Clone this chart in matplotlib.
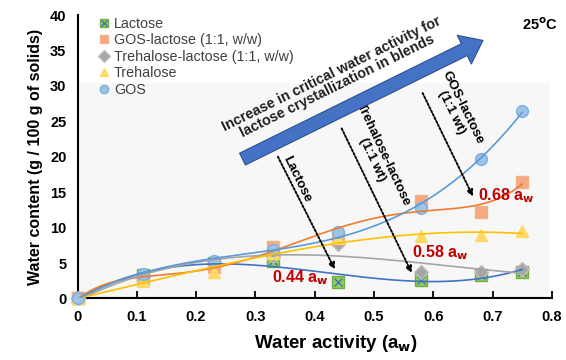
import numpy as np
import matplotlib
matplotlib.use("Agg")
import matplotlib.pyplot as plt
from matplotlib.lines import Line2D
from matplotlib.patches import FancyArrowPatch, Rectangle
from matplotlib.legend_handler import HandlerTuple

plt.rcParams["font.family"] = ["Liberation Sans", "DejaVu Sans"]

# Water activity levels
aw = [0, 0.11, 0.23, 0.33, 0.44, 0.58, 0.68, 0.75]

# Water content (g / 100 g solids)
lactose = [0, 3.3, 5.0, 5.3, 2.35, 2.6, 3.3, 3.8]
gos_lactose = [0, 2.8, 4.5, 7.3, 8.6, 13.8, 12.2, 16.5]
tre_lactose = [0, 3.0, 5.0, 6.0, 7.7, 3.8, 3.7, 4.1]
trehalose = [0, 2.4, 3.8, 6.4, 8.5, 8.8, 8.9, 9.5]
gos = [0, 3.5, 5.3, 6.9, 9.4, 12.8, 19.7, 26.5]

series = [
    ("Lactose", lactose, "s", "#8fd14f", "#70ad47", "#4472c4", 3),
    ("GOS-lactose (1:1, w/w)", gos_lactose, "s", "#f4aa82", "#f4b183", "#ed7d31", 5),
    ("Trehalose-lactose (1:1, w/w)", tre_lactose, "D", "#a6a6a6", "#bfbfbf", "#a5a5a5", 3),
    ("Trehalose", trehalose, "^", "#ffd966", "#ffd966", "#ffc000", 3),
    ("GOS", gos, "o", "#9dc3e6", "#7fafdf", "#5b9bd5", 3),
]

fig = plt.figure(figsize=(5.66, 3.6), dpi=100)
ax = fig.add_axes([0.137, 0.171, 0.838, 0.787])

# faint plot-area background
ax.add_patch(Rectangle((0, 0), 0.995, 0.76, transform=ax.transAxes,
                       facecolor="#f7f7f7", edgecolor="none", zorder=0))

xs = np.linspace(0, 0.75, 200)
handles = []
for name, vals, mk, fc, ec, lc, deg in series:
    ms = 7 if mk == "D" else 8.5
    ax.plot(aw, vals, linestyle="none", marker=mk, markersize=ms,
            markerfacecolor=fc, markeredgecolor=ec, markeredgewidth=1,
            zorder=3, clip_on=False)
    if name == "Lactose":
        ax.plot(aw, vals, linestyle="none", marker="x", markersize=6,
                color="#4472c4", markeredgewidth=1, zorder=3, clip_on=False)
    # polynomial trendline
    coef = np.polyfit(aw, vals, deg)
    ax.plot(xs, np.polyval(coef, xs), color=lc, lw=1.2, zorder=4)

    h = Line2D([], [], linestyle="none", marker=mk, markersize=6,
               markerfacecolor=fc, markeredgecolor=ec)
    if name == "Lactose":
        h = (h, Line2D([], [], linestyle="none", marker="x", markersize=4,
                       color="#4472c4", markeredgewidth=1))
    handles.append(h)

ax.legend(handles, [s[0] for s in series], loc="upper left",
          bbox_to_anchor=(0.03, 1.015), frameon=False, fontsize=10.3,
          handlelength=0.9, handletextpad=0.25, labelspacing=0.18,
          borderaxespad=0, labelcolor="#404040",
          handler_map={tuple: HandlerTuple(ndivide=1)})

# big blue arrow
big = FancyArrowPatch((0.274, 19.5), (0.688, 36.6),
                      arrowstyle="simple,head_width=2.3,head_length=1.5,tail_width=0.95",
                      mutation_scale=10, facecolor="#4472c4",
                      edgecolor="#2f528f", lw=0.8, zorder=5)
ax.add_patch(big)
ax.text(0.433, 30.8, "Increase in critical water activity for\nlactose crystallization in blends",
        rotation=26.3, rotation_mode="anchor", ha="center", va="center",
        fontsize=10.3, fontweight="bold", color="#202020", linespacing=1.0, zorder=6)

# dotted arrows
arrows = [((0.338, 20.0), (0.434, 4.1)),
          ((0.4455, 24.0), (0.5637, 3.6)),
          ((0.582, 29.0), (0.667, 14.4))]
for start, end in arrows:
    ax.annotate("", xy=end, xytext=start,
                arrowprops=dict(arrowstyle="-|>", linestyle=(0, (1, 1)), lw=1.4,
                                color="black", mutation_scale=9, shrinkA=0, shrinkB=0),
                zorder=6)

ax.text(0.370, 16.9, "Lactose", rotation=-64, rotation_mode="anchor",
        ha="center", va="center", fontsize=9.6, fontweight="bold")
ax.text(0.506, 19.9, "Trehalose-lactose\n(1:1 wt)", rotation=-65, rotation_mode="anchor",
        ha="center", va="center", fontsize=9.6, fontweight="bold", linespacing=1.0)
ax.text(0.640, 26.6, "GOS-lactose\n(1:1 wt)", rotation=-64, rotation_mode="anchor",
        ha="center", va="center", fontsize=9.6, fontweight="bold", linespacing=1.0)

red = "#c00000"
ax.text(0.375, 2.9, "0.44 a$_\\mathbf{w}$", ha="center", va="center",
        fontsize=11.5, fontweight="bold", color=red, zorder=6)
ax.text(0.611, 6.4, "0.58 a$_\\mathbf{w}$", ha="center", va="center",
        fontsize=11.5, fontweight="bold", color=red, zorder=6)
ax.text(0.7226, 14.5, "0.68 a$_\\mathbf{w}$", ha="center", va="center",
        fontsize=11.5, fontweight="bold", color=red, zorder=6)

ax.text(0.78, 38.6, "25$^\\mathbf{o}$C", ha="center", va="center",
        fontsize=10.5, fontweight="bold")

ax.set_xlim(0, 0.8)
ax.set_ylim(0, 40)
ax.set_xticks(np.arange(0, 0.81, 0.1))
ax.set_xticklabels(["0", "0.1", "0.2", "0.3", "0.4", "0.5", "0.6", "0.7", "0.8"])
ax.set_yticks(range(0, 41, 5))
ax.tick_params(axis="x", direction="in", length=5, width=1.3, labelsize=10.5, pad=8)
ax.tick_params(axis="y", length=0, labelsize=10.5, pad=8)
for lab in ax.get_xticklabels() + ax.get_yticklabels():
    lab.set_fontweight("bold")
for s in ["top", "right"]:
    ax.spines[s].set_visible(False)
for s in ["left", "bottom"]:
    ax.spines[s].set_linewidth(1.5)
ax.set_facecolor("white")

ax.set_xlabel("Water activity (a$_\\mathbf{w}$)", fontsize=13.5, fontweight="bold",
              labelpad=7, x=0.545)
ax.set_ylabel("Water content (g / 100 g of solids)", fontsize=11.5, fontweight="bold", labelpad=5)

fig.savefig("out.png", dpi=100)
